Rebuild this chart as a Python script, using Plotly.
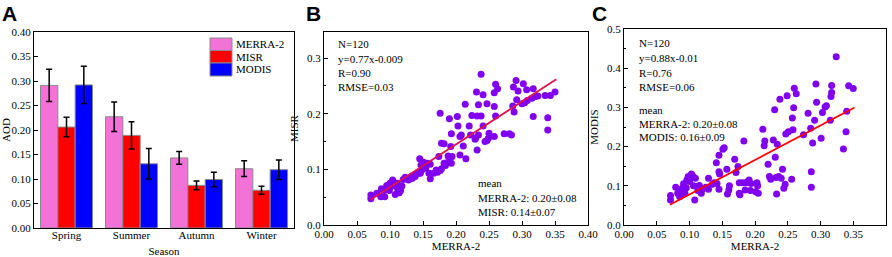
import plotly.graph_objects as go

# ---------------- Data ----------------
seasons = ["Spring", "Summer", "Autumn", "Winter"]
merra_mean = [0.291, 0.227, 0.143, 0.121]
merra_err = [0.033, 0.030, 0.013, 0.016]
misr_mean = [0.206, 0.189, 0.087, 0.077]
misr_err = [0.020, 0.028, 0.009, 0.008]
modis_mean = [0.292, 0.131, 0.099, 0.119]
modis_err = [0.038, 0.031, 0.015, 0.020]
series_names = ["MERRA-2", "MISR", "MODIS"]
series_colors = ["#F272D8", "#FF0000", "#0000FF"]

# Panel B: MERRA-2 vs MISR
b_x = [0.071, 0.071, 0.080, 0.086, 0.087, 0.092, 0.091, 0.096, 0.099, 0.101,
       0.105, 0.104, 0.108, 0.109, 0.111, 0.112, 0.114, 0.115, 0.116, 0.123,
       0.128, 0.131, 0.134, 0.138, 0.140, 0.143, 0.145, 0.146, 0.147, 0.151,
       0.154, 0.157, 0.159, 0.161, 0.161, 0.176, 0.178, 0.182, 0.170, 0.172,
       0.176, 0.178, 0.182, 0.184, 0.186, 0.188, 0.191, 0.190, 0.193, 0.192,
       0.193, 0.194, 0.202, 0.203, 0.206, 0.206, 0.208, 0.211, 0.214, 0.215,
       0.220, 0.222, 0.224, 0.229, 0.230, 0.231, 0.232, 0.232, 0.234, 0.234,
       0.238, 0.238, 0.241, 0.241, 0.244, 0.247, 0.247, 0.249, 0.250, 0.258,
       0.258, 0.258, 0.260, 0.260, 0.263, 0.273, 0.281, 0.284, 0.286, 0.287,
       0.288, 0.291, 0.292, 0.294, 0.300, 0.302, 0.304, 0.307, 0.308, 0.315,
       0.317, 0.317, 0.320, 0.324, 0.335, 0.339, 0.339, 0.343, 0.350,
       0.095, 0.100, 0.120, 0.133, 0.148, 0.174, 0.166, 0.118]
b_y = [0.054, 0.047, 0.057, 0.051, 0.065, 0.051, 0.062, 0.065, 0.062, 0.069,
       0.074, 0.081, 0.055, 0.069, 0.075, 0.063, 0.058, 0.068, 0.062, 0.086,
       0.081, 0.083, 0.084, 0.087, 0.092, 0.093, 0.119, 0.093, 0.108, 0.113,
       0.102, 0.111, 0.093, 0.083, 0.109, 0.201, 0.147, 0.146, 0.099, 0.095,
       0.098, 0.101, 0.111, 0.107, 0.112, 0.124, 0.120, 0.191, 0.164, 0.141,
       0.111, 0.123, 0.195, 0.178, 0.159, 0.126, 0.162, 0.142, 0.217, 0.119,
       0.178, 0.162, 0.197, 0.154, 0.157, 0.239, 0.196, 0.135, 0.162, 0.216,
       0.196, 0.271, 0.234, 0.178, 0.150, 0.152, 0.218, 0.156, 0.165, 0.238,
       0.213, 0.159, 0.253, 0.196, 0.245, 0.164, 0.164, 0.162, 0.214, 0.248,
       0.203, 0.260, 0.225, 0.241, 0.218, 0.254, 0.220, 0.243, 0.224, 0.228,
       0.245, 0.195, 0.231, 0.232, 0.233, 0.193, 0.171, 0.233, 0.239,
       0.071, 0.075, 0.082, 0.088, 0.099, 0.123, 0.093, 0.070]
b_slope, b_icpt = 0.77, -0.009

# Panel C: MERRA-2 vs MODIS
c_x = [0.071, 0.071, 0.079, 0.082, 0.085, 0.085, 0.089, 0.089, 0.091, 0.093,
       0.095, 0.096, 0.098, 0.100, 0.101, 0.103, 0.105, 0.106, 0.108, 0.109,
       0.111, 0.113, 0.115, 0.118, 0.120, 0.125, 0.129, 0.129, 0.135, 0.138,
       0.141, 0.142, 0.145, 0.145, 0.146, 0.145, 0.151, 0.153, 0.157, 0.158,
       0.160, 0.161, 0.169, 0.171, 0.174, 0.176, 0.176, 0.177, 0.181, 0.183,
       0.185, 0.186, 0.189, 0.191, 0.193, 0.194, 0.201, 0.203, 0.204, 0.205,
       0.212, 0.214, 0.215, 0.220, 0.222, 0.224, 0.228, 0.230, 0.231, 0.232,
       0.233, 0.234, 0.236, 0.238, 0.240, 0.242, 0.244, 0.246, 0.247, 0.249,
       0.251, 0.256, 0.257, 0.258, 0.259, 0.260, 0.263, 0.274, 0.281, 0.285,
       0.286, 0.286, 0.288, 0.291, 0.293, 0.294, 0.301, 0.303, 0.307, 0.309,
       0.315, 0.316, 0.317, 0.317, 0.324, 0.335, 0.339, 0.340, 0.343, 0.350]
c_y = [0.075, 0.064, 0.096, 0.081, 0.089, 0.072, 0.094, 0.077, 0.105, 0.081,
       0.095, 0.115, 0.124, 0.111, 0.119, 0.130, 0.125, 0.100, 0.064, 0.119,
       0.098, 0.088, 0.101, 0.081, 0.092, 0.096, 0.091, 0.119, 0.104, 0.108,
       0.159, 0.106, 0.178, 0.136, 0.130, 0.091, 0.193, 0.197, 0.142, 0.079,
       0.089, 0.100, 0.168, 0.134, 0.149, 0.108, 0.081, 0.077, 0.108, 0.214,
       0.089, 0.108, 0.111, 0.115, 0.088, 0.106, 0.085, 0.108, 0.100, 0.081,
       0.244, 0.202, 0.214, 0.155, 0.124, 0.117, 0.217, 0.294, 0.173, 0.121,
       0.079, 0.206, 0.124, 0.321, 0.119, 0.142, 0.094, 0.104, 0.232, 0.330,
       0.238, 0.117, 0.273, 0.243, 0.299, 0.349, 0.335, 0.230, 0.285, 0.247,
       0.136, 0.096, 0.209, 0.267, 0.360, 0.313, 0.221, 0.287, 0.301, 0.304,
       0.267, 0.328, 0.338, 0.356, 0.429, 0.194, 0.238, 0.290, 0.355, 0.348]
c_slope, c_icpt = 0.88, -0.01
fit_x = [0.070, 0.352]

# ---------------- Figure ----------------
W, H = 892, 257
FONT = "Times New Roman, Liberation Serif, serif"
SANS = "Arial, Liberation Sans, sans-serif"
PT = "#8000F0"

def px_x(p):
    return p / W

def px_y(p):
    return 1 - p / H

fig = go.Figure()

bar_line = dict(color="#8a8a8a", width=1)
err_style = dict(type="data", color="black", thickness=1.5, width=3)
for name, vals, errs, col in zip(series_names, [merra_mean, misr_mean, modis_mean],
                                 [merra_err, misr_err, modis_err], series_colors):
    fig.add_trace(go.Bar(x=seasons, y=vals, name=name, marker=dict(color=col, line=bar_line),
                         error_y=dict(array=errs, **err_style), xaxis="x", yaxis="y",
                         showlegend=False))

fig.add_trace(go.Scatter(x=b_x, y=b_y, mode="markers", marker=dict(color=PT, size=7),
                         showlegend=False, xaxis="x2", yaxis="y2"))
fig.add_trace(go.Scatter(x=fit_x, y=[b_slope * v + b_icpt for v in fit_x], mode="lines",
                         line=dict(color="#DC1450", width=1.8), showlegend=False,
                         xaxis="x2", yaxis="y2"))
fig.add_trace(go.Scatter(x=c_x, y=c_y, mode="markers", marker=dict(color=PT, size=7),
                         showlegend=False, xaxis="x3", yaxis="y3"))
fig.add_trace(go.Scatter(x=fit_x, y=[c_slope * v + c_icpt for v in fit_x], mode="lines",
                         line=dict(color="#FF0000", width=1.8), showlegend=False,
                         xaxis="x3", yaxis="y3"))

tickfont = dict(family=FONT, size=11, color="black")
minor = dict(ticks="inside", ticklen=2, tickcolor="black", nticks=2)

def ax(**kw):
    d = dict(showline=True, linecolor="black", linewidth=1.3, mirror=True,
             ticks="inside", ticklen=4, tickcolor="black", tickfont=tickfont,
             showgrid=False, zeroline=False, automargin=False,
             title_font=dict(family=FONT, size=11, color="black"))
    d.update(kw)
    return d

fig.update_layout(
    width=W, height=H, margin=dict(l=0, r=0, t=0, b=0, autoexpand=False),
    paper_bgcolor="white", plot_bgcolor="white",
    barmode="group", bargap=0.2, bargroupgap=0,
    font=dict(family=FONT, color="black"),
    showlegend=False,
    xaxis=ax(domain=[px_x(34), px_x(294)], anchor="y", range=[-0.5, 3.5], ticks="",
             ticklabelstandoff=-3, title=dict(text="Season", standoff=7)),
    yaxis=ax(domain=[px_y(228), px_y(32)], anchor="x", range=[0, 0.40], dtick=0.05,
             tickformat=".2f", title=dict(text="AOD", standoff=6), minor=minor),
    xaxis2=ax(domain=[px_x(324), px_x(588)], anchor="y2", range=[0, 0.40], dtick=0.05,
              tickformat=".2f", ticklabelstandoff=-1,
              title=dict(text="MERRA-2", standoff=0), minor=minor),
    yaxis2=ax(domain=[px_y(225), px_y(32)], anchor="x2", range=[0, 0.347], dtick=0.1,
              tickformat=".1f", title=dict(text="MISR", standoff=6), minor=minor),
    xaxis3=ax(domain=[px_x(624), px_x(886)], anchor="y3", range=[0, 0.40], dtick=0.05,
              tickformat=".2f", ticklabelstandoff=-1,
              title=dict(text="MERRA-2", standoff=0), minor=minor),
    yaxis3=ax(domain=[px_y(225), px_y(29)], anchor="x3", range=[0, 0.5], dtick=0.1,
              tickformat=".1f", title=dict(text="MODIS", standoff=6), minor=minor),
)

annos = []
shapes = []

def txt(x, y, s, size=11, family=FONT, bold=False):
    annos.append(dict(x=px_x(x), y=px_y(y), xref="paper", yref="paper",
                      text=("<b>%s</b>" % s) if bold else s,
                      showarrow=False, xanchor="left", yanchor="middle", borderpad=0,
                      font=dict(family=family, size=size, color="black")))

# Legend of panel A (drawn as boxes + labels)
leg_rows = [(38, 50.5), (50.5, 63), (63, 76)]
for (y0, y1), name, col in zip(leg_rows, series_names, series_colors):
    shapes.append(dict(type="rect", xref="paper", yref="paper",
                       x0=px_x(210), x1=px_x(232), y0=px_y(y1), y1=px_y(y0),
                       fillcolor=col, line=dict(color="#8a8a8a", width=1)))
    txt(235, (y0 + y1) / 2, name)

txt(1, 13, "A", size=21, family=SANS, bold=True)
txt(305, 13, "B", size=21, family=SANS, bold=True)
txt(591, 13, "C", size=21, family=SANS, bold=True)

for i, s in enumerate(["N=120", "y=0.77x-0.009", "R=0.90", "RMSE=0.03"]):
    txt(337, 44.3 + 14.3 * i, s)
for y, s in [(183, "mean"), (198, "MERRA-2: 0.20±0.08"), (212, "MISR: 0.14±0.07")]:
    txt(477, y, s)
for i, s in enumerate(["N=120", "y=0.88x-0.01", "R=0.76", "RMSE=0.06"]):
    txt(638, 43.3 + 14.6 * i, s)
for y, s in [(110, "mean"), (124, "MERRA-2: 0.20±0.08"), (136.5, "MODIS: 0.16±0.09")]:
    txt(638, y, s)

fig.update_layout(annotations=annos, shapes=shapes)
fig.write_html("out.html", config={"displayModeBar": False},
               post_script="document.body.style.margin='0';document.body.style.padding='0';")
